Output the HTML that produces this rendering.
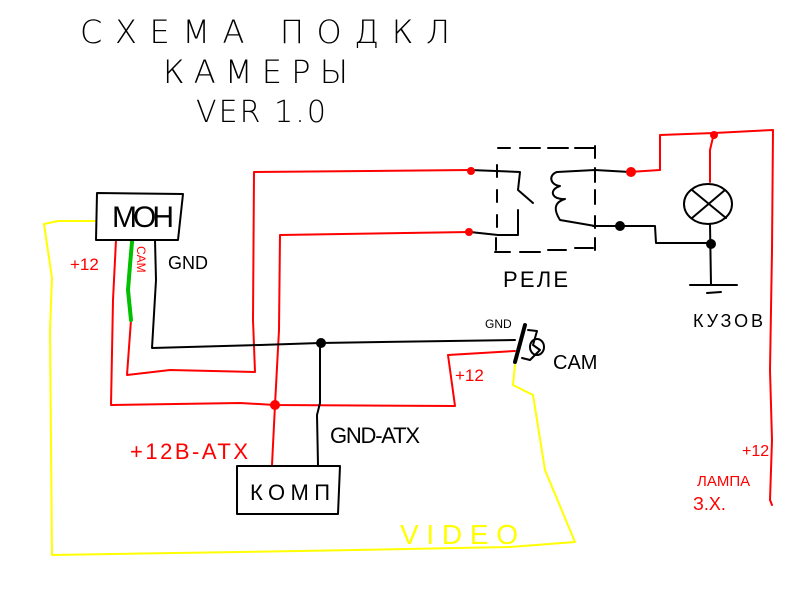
<!DOCTYPE html>
<html><head><meta charset="utf-8"><style>
html,body{margin:0;padding:0;background:#fff;width:800px;height:600px;overflow:hidden}
svg{display:block}
text{font-family:"Liberation Sans","DejaVu Sans",sans-serif}
</style></head><body>
<svg width="800" height="600" viewBox="0 0 800 600" xmlns="http://www.w3.org/2000/svg">
<rect width="800" height="600" fill="#fff"/>
<g fill="none" stroke-linejoin="round" stroke-linecap="round">
<!-- title -->
<text x="80" y="43" font-size="32" fill="#000" stroke="none" style="font-family:'DejaVu Sans',sans-serif;font-weight:200" textLength="370" lengthAdjust="spacing">СХЕМА ПОДКЛ</text>
<text x="163" y="83" font-size="32" fill="#000" stroke="none" style="font-family:'DejaVu Sans',sans-serif;font-weight:200" textLength="185" lengthAdjust="spacing">КАМЕРЫ</text>
<text x="196" y="122" font-size="30" fill="#000" stroke="none" style="font-family:'DejaVu Sans',sans-serif;font-weight:200" textLength="130" lengthAdjust="spacing">VER 1.0</text>

<!-- yellow video -->
<polyline stroke="#ffff00" stroke-width="2" points="96,221 58,221 44,224 52,278 50,330 52,555 300,551 510,547 575,542 545,470 533,395 513,385 515,365"/>
<!-- red MON +12 -->
<polyline stroke="#ff0000" stroke-width="2" points="116,240 113,300 111,405 240,403 275,405 455,406 448,355 515,351"/>
<!-- red CAM loop -->
<polyline stroke="#ff0000" stroke-width="2" points="131,320 127,375 170,370 255,372 253,320 254,172 470,170"/>
<polyline stroke="#00c000" stroke-width="4" points="132,242 130,265 128,290 131,320"/>
<!-- red second line -->
<polyline stroke="#ff0000" stroke-width="2" points="272,465 275,405 279,330 280,235 470,232"/>
<!-- black GND -->
<polyline stroke="#000" stroke-width="2" points="155,240 156,280 152,348 260,345 320,343 515,340"/>
<polyline stroke="#000" stroke-width="2" points="320,343 320,403 317,415 318,465"/>
<!-- MON box -->
<polygon stroke="#000" stroke-width="2" points="97,193 183,194 178,240 96,240"/>
<!-- KOMP box -->
<polygon stroke="#000" stroke-width="2" points="237,466 340,466 338,514 237,514"/>
<!-- relay -->
<g stroke="#000" stroke-width="2">
<path d="M498,148h12 M520,148h20 M548,148h20 M575,148h20 M497,165v12 M497,190v12 M497,215v12 M496,238v12 M495,252h15 M520,252h20 M548,250h18 M575,248h18"/>
<path d="M595,146v12 M595,168v14 M595,190v14 M595,216v12 M595,238v12"/>
<polyline points="470,170 520,172 518,190 533,203"/>
<polyline points="470,232 498,235 518,235 518,210"/>
<path d="M630,172 L595,170 L557,172 C548,175 550,185 560,186 C548,190 552,200 565,199 C552,203 555,212 560,220 L595,226"/>
<polyline points="593,226 620,226 655,226 656,243 712,243"/>
<ellipse cx="708" cy="204" rx="24" ry="20"/>
<line x1="692" y1="190" x2="726" y2="218"/><line x1="692" y1="218" x2="725" y2="190"/>
<polyline points="710,224 711,285"/>
<line x1="690" y1="285" x2="737" y2="285"/><line x1="707" y1="293" x2="721" y2="292"/>
</g>
<!-- right red -->
<polyline stroke="#ff0000" stroke-width="2" points="630,172 660,170 660,135 714,133 773,130 772,250 770,370 772,440 770,500 772,505"/>
<polyline stroke="#ff0000" stroke-width="2" points="714,133 710,150 710,182"/>
<!-- cam symbol -->
<g stroke="#000" stroke-width="2">
<line x1="525" y1="325" x2="515" y2="362" stroke-width="4"/>
<polyline points="528,330 537,331 533,345 540,350 530,360 522,358"/>
<ellipse cx="537" cy="347" rx="7" ry="8"/>
</g>
</g>
<!-- dots -->
<g stroke="none">
<circle cx="321" cy="343" r="5" fill="#000"/>
<circle cx="620" cy="226" r="5" fill="#000"/>
<circle cx="711" cy="244" r="5" fill="#000"/>
<circle cx="275" cy="405" r="5" fill="#f00"/>
<circle cx="471" cy="171" r="4" fill="#f00"/>
<circle cx="469" cy="232" r="4" fill="#f00"/>
<circle cx="631" cy="172" r="5" fill="#f00"/>
<circle cx="714" cy="135" r="4" fill="#f00"/>
</g>
<!-- labels -->
<g stroke="none" style="font-family:'DejaVu Sans',sans-serif">
<text x="112" y="227" font-size="30" fill="#000" textLength="62">МОН</text>
<text x="250" y="500" font-size="22" fill="#000" textLength="80" lengthAdjust="spacing">КОМП</text>
<text x="70" y="270" font-size="17" fill="#f00">+12</text>
<text x="168" y="269" font-size="18" fill="#000">GND</text>
<text x="137" y="246" font-size="12" fill="#f00" transform="rotate(90 137 246)">CAM</text>
<text x="503" y="287" font-size="22" fill="#000" textLength="65" lengthAdjust="spacing">РЕЛЕ</text>
<text x="693" y="327" font-size="18" fill="#000" textLength="70" lengthAdjust="spacing">КУЗОВ</text>
<text x="485" y="328" font-size="12" fill="#000">GND</text>
<text x="553" y="369" font-size="20" fill="#000">CAM</text>
<text x="455" y="381" font-size="17" fill="#f00">+12</text>
<text x="330" y="443" font-size="22" fill="#000" textLength="90" lengthAdjust="spacing">GND-ATX</text>
<text x="130" y="459" font-size="22" fill="#f00" textLength="118" lengthAdjust="spacing">+12В-АТХ</text>
<text x="742" y="456" font-size="16" fill="#f00">+12</text>
<text x="697" y="486" font-size="15" fill="#f00">ЛАМПА</text>
<text x="693" y="510" font-size="18" fill="#f00">З.Х.</text>
<text x="400" y="544" font-size="28" fill="#ffff00" textLength="118" lengthAdjust="spacing">VIDEO</text>
</g>
</svg>
</body></html>
